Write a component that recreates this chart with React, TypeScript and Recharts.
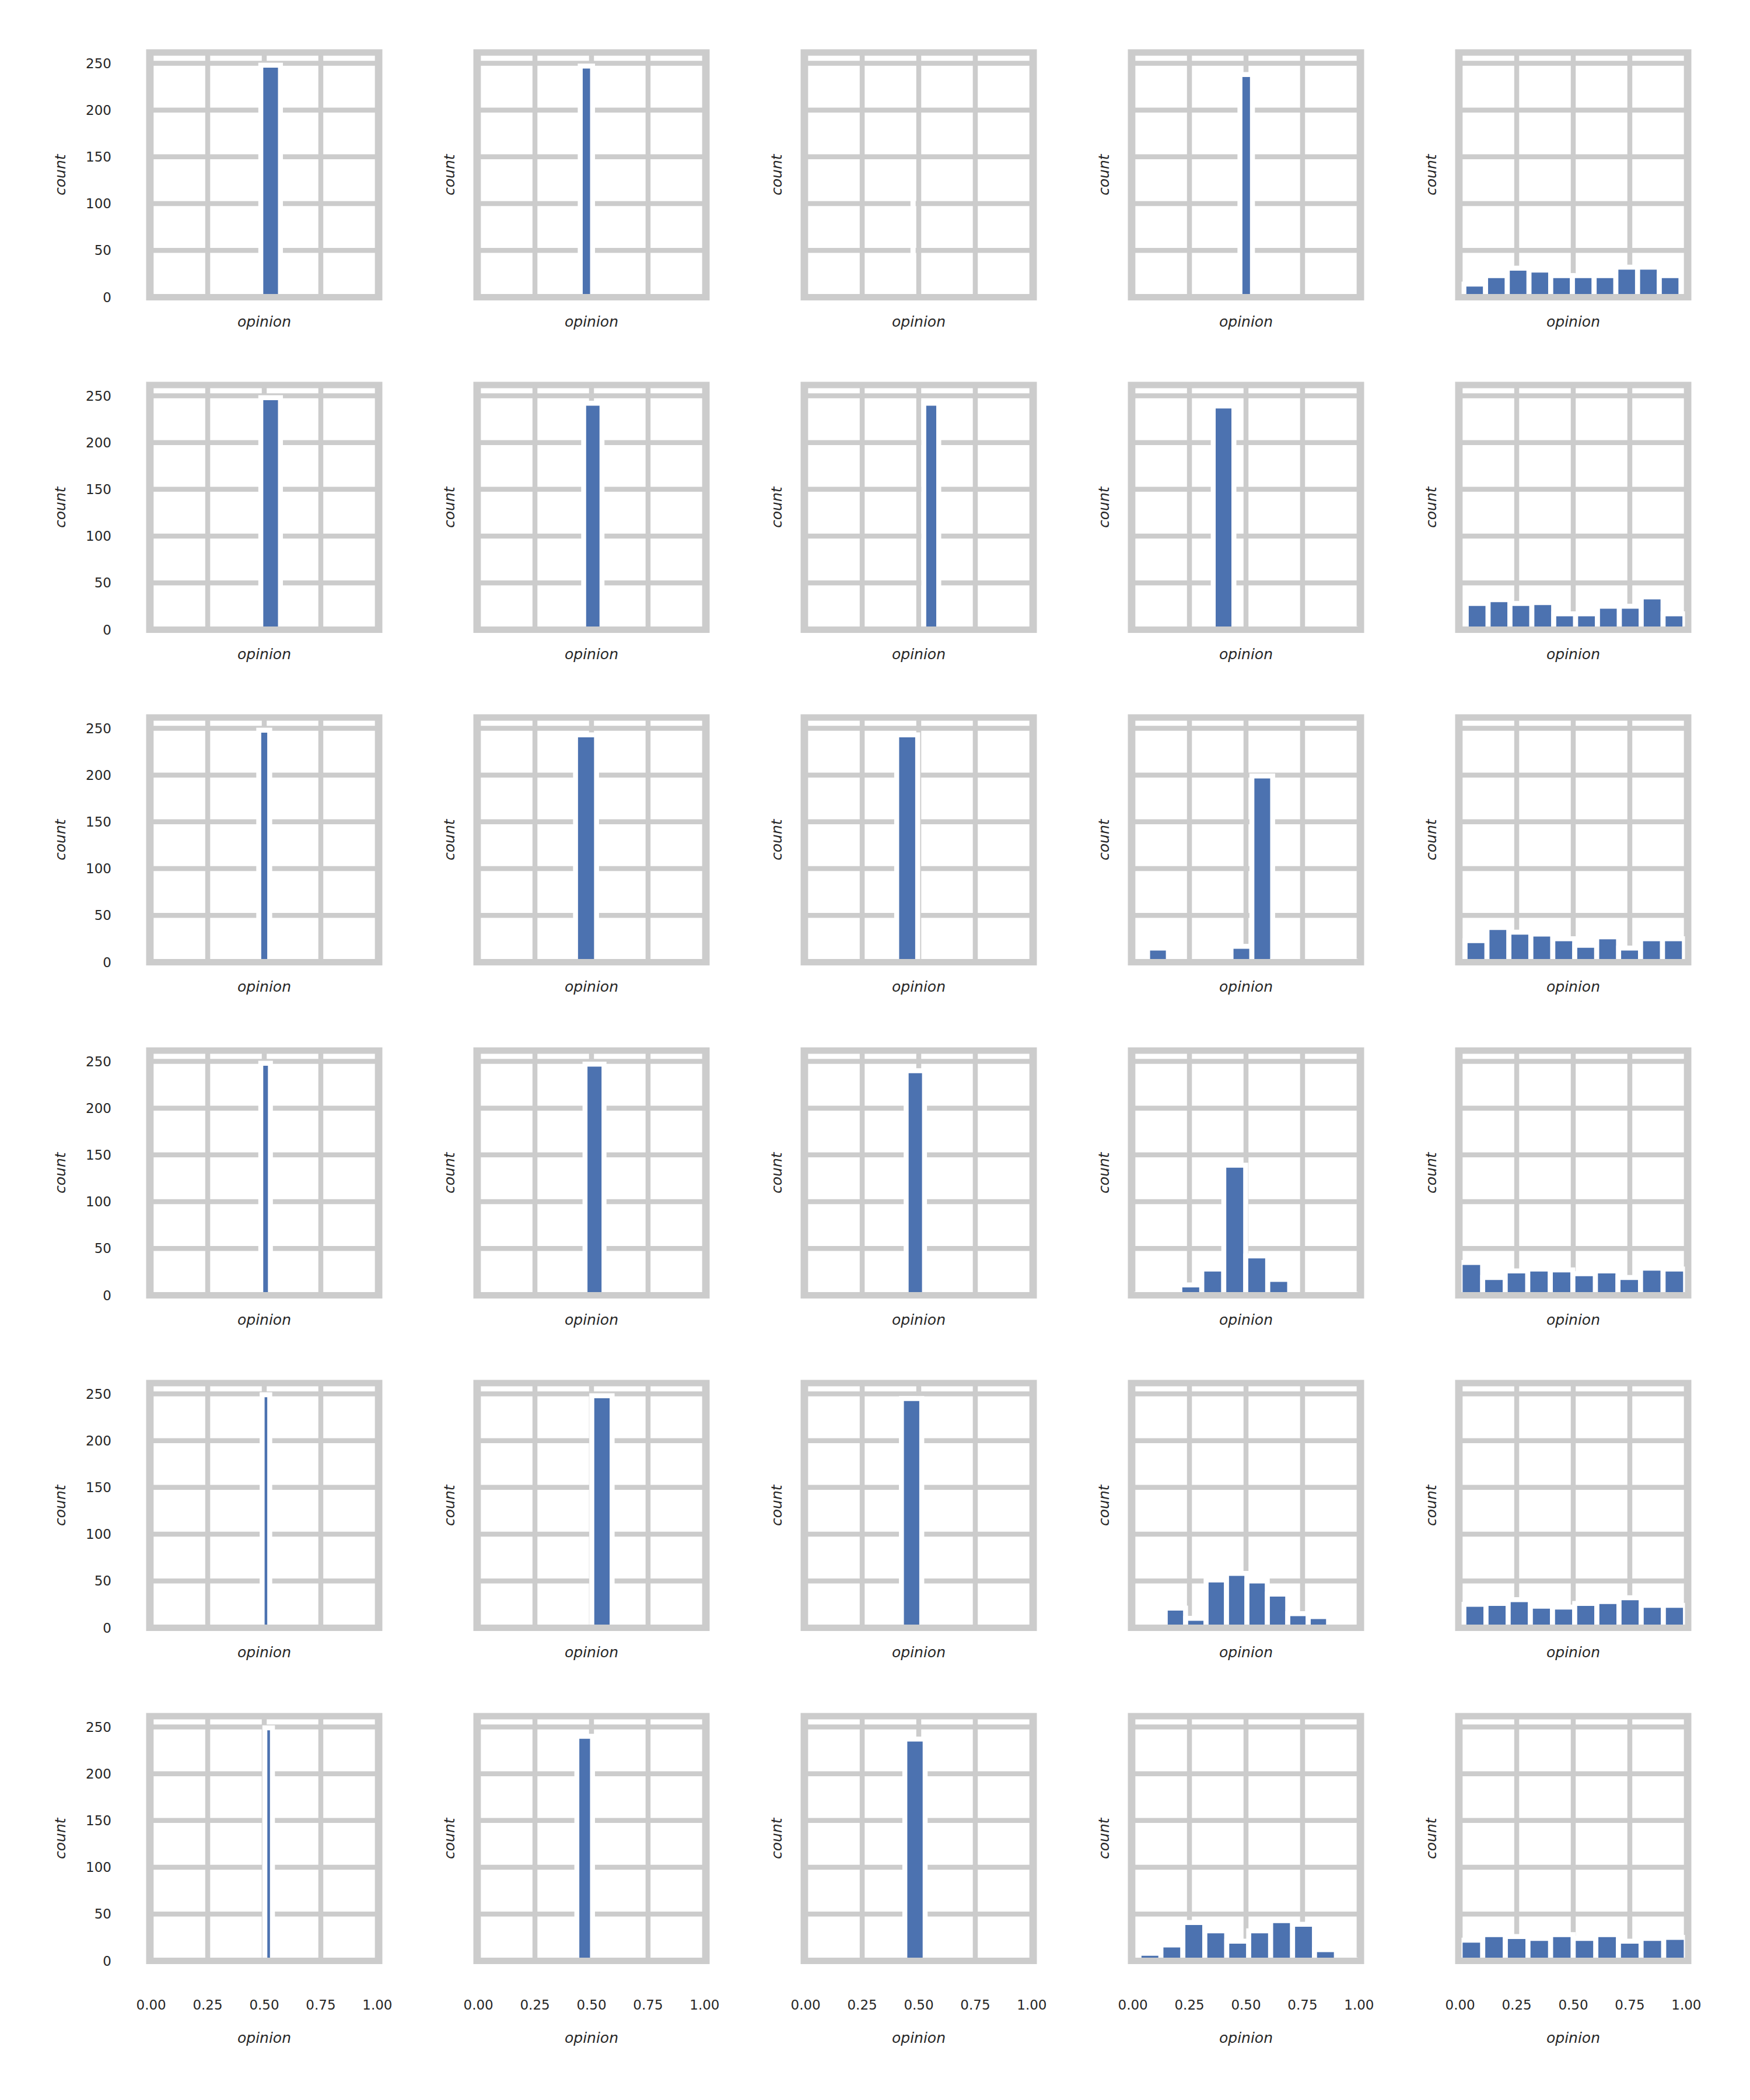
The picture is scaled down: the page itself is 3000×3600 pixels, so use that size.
import React from 'react';
import { BarChart, Bar, XAxis, YAxis, CartesianGrid, ReferenceArea } from 'recharts';

// 6 runs (rows) x 5 settings (columns), histogram of agent opinions
const opinionTicks = [0, 0.25, 0.5, 0.75, 1];
const countTicks = [0, 50, 100, 150, 200, 250];

// left edge of the first bin, per panel
const binStarts = [
  [0.3973, 0.3955, 0.4745, 0.362, 0.0165],
  [0.3973, 0.3838, 0.4555, 0.355, 0.027],
  [0.427, 0.3361, 0.3091, 0.065, 0.0217],
  [0.4418, 0.3869, 0.3628, 0.013, 0.0],
  [0.4568, 0.411, 0.3331, 0.143, 0.0165],
  [0.4688, 0.3656, 0.3481, 0.027, 0.0],
];

// bin width, per panel
const binWidths = [
  [0.0874, 0.0547, 0.0001, 0.0556, 0.096],
  [0.0874, 0.0815, 0.0666, 0.092, 0.0967],
  [0.0487, 0.0933, 0.0933, 0.0922, 0.097],
  [0.0428, 0.0844, 0.0815, 0.0972, 0.0997],
  [0.0338, 0.0903, 0.0903, 0.0903, 0.098],
  [0.0338, 0.0696, 0.0903, 0.097, 0.1],
];

// counts per bin, per panel
const binCounts = [
  [
    [0, 248, 0],
    [0, 247, 0],
    [125, 125],
    [1, 0, 238, 0, 0, 0, 0, 0, 0, 1],
    [14, 23, 31, 29, 23, 23, 23, 32, 32, 23],
  ],
  [
    [0, 248, 0],
    [0, 242, 0],
    [0, 242, 0],
    [239, 0, 0, 0, 0, 0, 1],
    [28, 32, 28, 29, 17, 17, 25, 25, 35, 17],
  ],
  [
    [0, 248, 0],
    [0, 243, 0],
    [0, 243, 0],
    [15, 0, 0, 0, 17, 199, 1, 0, 0, 1],
    [23, 37, 32, 30, 25, 18, 27, 15, 25, 25],
  ],
  [
    [0, 248, 0],
    [0, 247, 0],
    [0, 240, 0, 0, 0, 0, 1],
    [1, 1, 11, 28, 139, 42, 17, 0, 0, 1],
    [35, 19, 26, 28, 27, 23, 26, 19, 29, 28],
  ],
  [
    [0, 249, 0],
    [0, 248, 0],
    [0, 245, 0],
    [21, 10, 51, 58, 50, 36, 15, 12],
    [25, 26, 30, 23, 22, 26, 28, 32, 24, 24],
  ],
  [
    [0, 249, 0],
    [0, 240, 0],
    [0, 237, 0],
    [8, 17, 41, 32, 21, 32, 43, 39, 12, 1],
    [22, 28, 26, 24, 28, 24, 28, 21, 24, 25],
  ],
];

const BAR = '#4c72b0';
const GRID = '#cccccc';
const TEXT = '#262626';

const X_MIN = -0.008;
const X_MAX = 1.008;
const Y_MAX = 261.5;
const PLOT_W = 394;
const PLOT_H = 419.4;
const PX_PER_X = PLOT_W / (X_MAX - X_MIN);

// where x=0 / y=0 of the top-left panel sit on the page, and panel spacing
const COL_X0 = 259;
const COL_STEP = 561;
const ROW_Y0 = 509;
const ROW_STEP = 570.4;

// shared axes: inner panels keep their ticks (for the grid) but draw no labels
const noTick = () => <g />;

function Panel({ row, col }: { row: number; col: number }) {
  const start = binStarts[row][col];
  const width = binWidths[row][col];
  const data = binCounts[row][col].map((count, i) => ({
    opinion: start + (i + 0.5) * width,
    count,
  }));

  const firstCol = col === 0;
  const lastRow = row === binCounts.length - 1;
  const yAxisW = firstCol ? 190 : 70;
  const xAxisH = lastRow ? 141 : 51;
  const margin = { top: 12, right: 40, bottom: 14, left: 0 };

  const plotLeft = COL_X0 + COL_STEP * col + X_MIN * PX_PER_X;
  const plotTop = ROW_Y0 + ROW_STEP * row - PLOT_H;

  return (
    <div style={{ position: 'absolute', left: plotLeft - yAxisW, top: plotTop - margin.top }}>
      <BarChart
        width={yAxisW + PLOT_W + margin.right}
        height={margin.top + PLOT_H + xAxisH + margin.bottom}
        data={data}
        margin={margin}
      >
        <CartesianGrid stroke={GRID} strokeWidth={8.5} />
        <XAxis
          type="number"
          dataKey="opinion"
          domain={[X_MIN, X_MAX]}
          ticks={opinionTicks}
          interval={0}
          height={xAxisH}
          axisLine={false}
          tickLine={false}
          tickSize={0}
          tickMargin={67}
          tick={lastRow ? { fill: TEXT, fontSize: 23 } : noTick}
          tickFormatter={(v: number) => v.toFixed(2)}
          label={{
            value: 'opinion',
            position: 'insideBottom',
            offset: 0,
            fill: TEXT,
            fontSize: 25,
            fontStyle: 'italic',
          }}
        />
        <YAxis
          type="number"
          domain={[0, Y_MAX]}
          ticks={countTicks}
          interval={0}
          width={yAxisW}
          axisLine={false}
          tickLine={false}
          tickSize={0}
          tickMargin={65}
          tick={firstCol ? { fill: TEXT, fontSize: 23 } : noTick}
          label={{
            value: 'count',
            angle: -90,
            position: 'insideLeft',
            offset: firstCol ? 37 : 23,
            fill: TEXT,
            fontSize: 25,
            fontStyle: 'italic',
            style: { textAnchor: 'middle' },
          }}
        />
        <Bar
          dataKey="count"
          fill={BAR}
          stroke="#ffffff"
          strokeWidth={8.5}
          barSize={width * PX_PER_X * 0.995}
          isAnimationActive={false}
        />
        <ReferenceArea
          x1={X_MIN}
          x2={X_MAX}
          y1={0}
          y2={Y_MAX}
          fill="none"
          stroke={GRID}
          strokeWidth={11}
          zIndex={2000}
        />
      </BarChart>
    </div>
  );
}

export default function App() {
  return (
    <div
      style={{
        position: 'absolute',
        left: 0,
        top: 0,
        width: 3000,
        height: 3600,
        background: '#ffffff',
        fontFamily: "'DejaVu Sans', sans-serif",
      }}
    >
      {binCounts.map((rowPanels, r) =>
        rowPanels.map((_, c) => <Panel key={`${r}-${c}`} row={r} col={c} />)
      )}
    </div>
  );
}
